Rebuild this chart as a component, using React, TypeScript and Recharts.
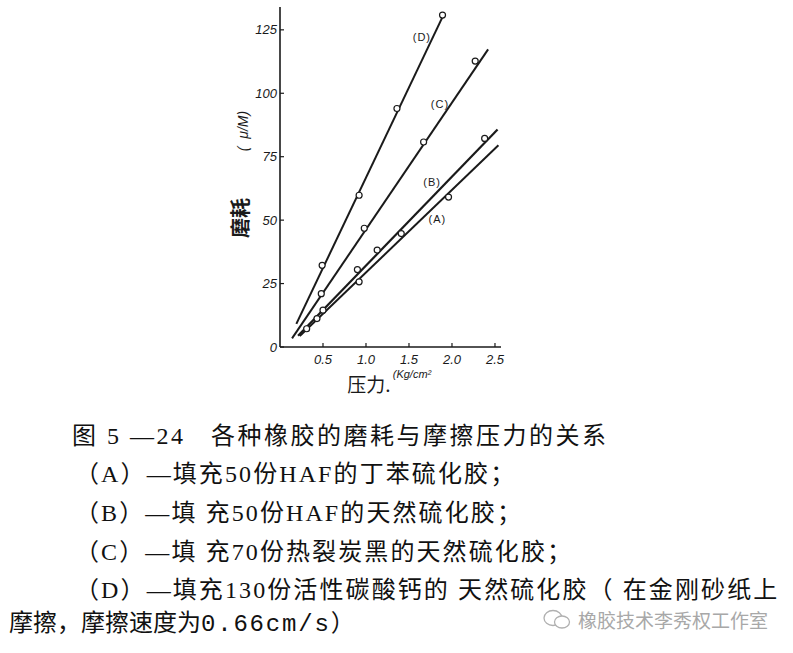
import React from 'react';
import { ComposedChart, Line, Scatter, XAxis, YAxis } from 'recharts';

const xTicks = [0.5, 1, 1.5, 2, 2.5];
const yTicks = [0, 25, 50, 75, 100, 125];

const pointsA = [
  { x: 0.31, y: 7.2 },
  { x: 0.43, y: 11.2 },
  { x: 0.92, y: 25.7 },
  { x: 1.96, y: 59.1 },
];
const pointsB = [
  { x: 0.5, y: 14.5 },
  { x: 0.9, y: 30.5 },
  { x: 1.13, y: 38.2 },
  { x: 1.41, y: 44.7 },
  { x: 2.38, y: 82.2 },
];
const pointsC = [
  { x: 0.48, y: 21 },
  { x: 0.98, y: 46.8 },
  { x: 1.67, y: 80.8 },
  { x: 2.27, y: 112.7 },
];
const pointsD = [
  { x: 0.49, y: 32.2 },
  { x: 0.92, y: 59.8 },
  { x: 1.36, y: 94 },
  { x: 1.89, y: 130.8 },
];

const lineA = [
  { x: 0.23, y: 4.3 },
  { x: 2.54, y: 79.5 },
];
const lineB = [
  { x: 0.21, y: 4.4 },
  { x: 2.53, y: 85.7 },
];
const lineC = [
  { x: 0.14, y: 3.4 },
  { x: 2.42, y: 117.3 },
];
const lineD = [
  { x: 0.19, y: 9.1 },
  { x: 1.91, y: 131.5 },
];

const lineLabels = [
  { x: 1.65, y: 122, text: '(D)' },
  { x: 1.86, y: 95.7, text: '(C)' },
  { x: 1.77, y: 65, text: '(B)' },
  { x: 1.83, y: 50.4, text: '(A)' },
];

const captionLines = [
  { left: 72, center: 436, spacing: 2.5, text: '图 5 —24   各种橡胶的磨耗与摩擦压力的关系', mono: '' , tail: '' },
  { left: 75, center: 474, spacing: 2.1, text: '（A）—填充50份HAF的丁苯硫化胶；', mono: '', tail: '' },
  { left: 75, center: 513, spacing: 2.1, text: '（B）—填 充50份HAF的天然硫化胶；', mono: '', tail: '' },
  { left: 75, center: 552, spacing: 2.1, text: '（C）—填 充70份热裂炭黑的天然硫化胶；', mono: '', tail: '' },
  { left: 75, center: 590, spacing: 2.1, text: '（D）—填充130份活性碳酸钙的 天然硫化胶（ 在金刚砂纸上', mono: '', tail: '' },
  { left: 9, center: 623, spacing: 0, text: '摩擦，摩擦速度为', mono: '0.66cm/s', tail: '）' },
];

const watermark = '橡胶技术李秀权工作室';

const INK = '#1a1a1a';
const handFont = '"Liberation Sans", "DejaVu Sans", sans-serif';
const cjkFont = '"Noto Sans CJK SC", sans-serif';

const Dot = (props: any) => {
  const { cx, cy } = props;
  if (cx == null || cy == null) return null;
  return <circle cx={cx} cy={cy} r={3} fill="#fff" stroke={INK} strokeWidth={1.2} />;
};

const LabelShape = (props: any) => {
  const { cx, cy, payload } = props;
  if (cx == null || cy == null) return null;
  return (
    <text
      x={cx}
      y={cy}
      textAnchor="middle"
      dominantBaseline="central"
      fontFamily={handFont}
      fontSize={11}
      fill={INK}
      letterSpacing={1}
    >
      {payload.text}
    </text>
  );
};

const YLabel = () => (
  <g>
    <text
      x={239}
      y={218}
      transform="rotate(-90 239 218)"
      textAnchor="middle"
      dominantBaseline="central"
      fontFamily={cjkFont}
      fontWeight={700}
      fontSize={20}
      fill={INK}
    >
      磨耗
    </text>
    <text
      x={243}
      y={131}
      transform="rotate(-90 243 131)"
      textAnchor="middle"
      dominantBaseline="central"
      fontFamily={handFont}
      fontStyle="italic"
      fontSize={14}
      fill={INK}
      style={{ whiteSpace: 'pre' }}
    >
      {'(  μ/M)'}
    </text>
  </g>
);

const XLabel = () => (
  <g>
    <text
      x={369}
      y={383}
      textAnchor="middle"
      dominantBaseline="central"
      fontFamily={cjkFont}
      fontSize={19}
      fill={INK}
    >
      压力.
    </text>
    <text
      x={412}
      y={374}
      textAnchor="middle"
      dominantBaseline="central"
      fontFamily={handFont}
      fontStyle="italic"
      fontSize={11}
      fill={INK}
    >
      (Kg/cm²
    </text>
  </g>
);

const tickStyle = {
  fontFamily: handFont,
  fontStyle: 'italic' as const,
  fontSize: 13,
  fill: INK,
};

export default function App() {
  return (
    <div
      style={{
        position: 'absolute',
        left: 0,
        top: 0,
        width: 793,
        height: 653,
        background: '#fff',
        overflow: 'hidden',
      }}
    >
      <div style={{ position: 'absolute', left: 0, top: 0 }}>
        <ComposedChart
          width={793}
          height={400}
          margin={{ top: 7, right: 292, left: 240, bottom: 23 }}
        >
          <XAxis
            type="number"
            dataKey="x"
            domain={[0, 2.57]}
            ticks={xTicks}
            tickFormatter={(v: number) => v.toFixed(1)}
            height={30}
            tickSize={-4}
            tickMargin={12}
            axisLine={{ stroke: INK, strokeWidth: 1.6 }}
            tickLine={{ stroke: INK, strokeWidth: 1.2 }}
            tick={tickStyle}
            allowDataOverflow
            label={{ content: () => <XLabel /> }}
          />
          <YAxis
            type="number"
            dataKey="y"
            domain={[0, 134]}
            ticks={yTicks}
            width={40}
            tickSize={-4}
            tickMargin={7}
            axisLine={{ stroke: INK, strokeWidth: 1.6 }}
            tickLine={{ stroke: INK, strokeWidth: 1.2 }}
            tick={tickStyle}
            allowDataOverflow
            label={{ content: () => <YLabel /> }}
          />
          <Line data={lineA} dataKey="y" type="linear" stroke={INK} strokeWidth={2} dot={false} activeDot={false} isAnimationActive={false} />
          <Line data={lineB} dataKey="y" type="linear" stroke={INK} strokeWidth={2.2} dot={false} activeDot={false} isAnimationActive={false} />
          <Line data={lineC} dataKey="y" type="linear" stroke={INK} strokeWidth={2} dot={false} activeDot={false} isAnimationActive={false} />
          <Line data={lineD} dataKey="y" type="linear" stroke={INK} strokeWidth={2} dot={false} activeDot={false} isAnimationActive={false} />
          <Scatter data={pointsA} dataKey="y" shape={Dot} isAnimationActive={false} />
          <Scatter data={pointsB} dataKey="y" shape={Dot} isAnimationActive={false} />
          <Scatter data={pointsC} dataKey="y" shape={Dot} isAnimationActive={false} />
          <Scatter data={pointsD} dataKey="y" shape={Dot} isAnimationActive={false} />
          <Scatter data={lineLabels} dataKey="y" shape={LabelShape} isAnimationActive={false} />
        </ComposedChart>
      </div>
      {captionLines.map((l, i) => (
        <div
          key={i}
          style={{
            position: 'absolute',
            left: l.left,
            top: l.center - 12,
            height: 24,
            lineHeight: '24px',
            fontSize: 24,
            letterSpacing: l.spacing,
            whiteSpace: 'pre',
            color: '#111',
            fontFamily: '"Liberation Serif", "Noto Sans CJK SC", serif',
          }}
        >
          {l.text}
          {l.mono ? (
            <span style={{ fontFamily: '"Liberation Mono", monospace', letterSpacing: 1.8 }}>{l.mono}</span>
          ) : null}
          {l.tail}
        </div>
      ))}
      <div
        style={{
          position: 'absolute',
          left: 542,
          top: 608,
          height: 22,
          display: 'flex',
          alignItems: 'center',
          color: '#a8a8a8',
          fontFamily: cjkFont,
          fontSize: 19,
          whiteSpace: 'pre',
        }}
      >
        <svg width={30} height={22} style={{ marginRight: 6 }}>
          <ellipse cx={11} cy={10} rx={9} ry={7.5} fill="none" stroke="#b0b0b0" strokeWidth={1.3} />
          <ellipse cx={20} cy={14} rx={7.5} ry={6} fill="#fff" stroke="#b0b0b0" strokeWidth={1.3} />
        </svg>
        {watermark}
      </div>
    </div>
  );
}
